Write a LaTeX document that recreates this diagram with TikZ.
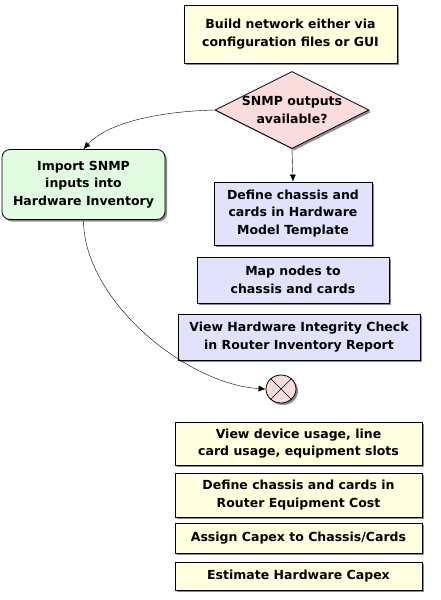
\documentclass[tikz,border=0pt]{standalone}
\usepackage{fontspec}
\setmainfont{DejaVu Sans}
\usetikzlibrary{shapes.geometric,shadows,arrows.meta}
\definecolor{taskyellow}{HTML}{FFFFE0}
\definecolor{taskblue}{HTML}{E2E2FC}
\definecolor{taskgreen}{HTML}{E2FCE2}
\definecolor{taskpink}{HTML}{FADCDC}
\tikzset{
  task/.style={draw, line width=0.8pt, inner sep=0pt, align=center,
    font=\bfseries\fontsize{12.5}{17.5}\selectfont,
    drop shadow={shadow xshift=2pt, shadow yshift=-2pt, fill=black!45, opacity=1}},
  flow/.style={thin, -{Latex[length=7pt,width=6pt]}}
}
\begin{document}
\begin{tikzpicture}[x=1pt,y=-1pt]
\useasboundingbox[fill=white] (0,0) rectangle (440,600);

% top part
\node[task, fill=taskyellow, minimum width=213, minimum height=58] (build) at (290.5,34)
  {Build network either via\\configuration files or GUI};
\node[task, shape=diamond, aspect=2, fill=taskpink, minimum width=150, minimum height=77] (snmp) at (292,110)
  {SNMP outputs\\available?};
\node[task, rounded corners=8pt, fill=taskgreen, minimum width=163, minimum height=70] (import) at (83.5,184.5)
  {Import SNMP\\inputs into\\Hardware Inventory};

% blue steps
\node[task, fill=taskblue, minimum width=158, minimum height=63] (define) at (293,213.5)
  {Define chassis and\\cards in Hardware\\Model Template};
\node[task, fill=taskblue, minimum width=192, minimum height=46] (map) at (293,280)
  {Map nodes to\\chassis and cards};
\node[task, fill=taskblue, minimum width=242, minimum height=46] (check) at (299,337)
  {View Hardware Integrity Check\\in Router Inventory Report};

% merge point
\node[task, shape=ellipse, fill=taskpink, minimum width=30, minimum height=28] (merge) at (281,389) {};
\draw[thin] (merge.45) -- (merge.225) (merge.135) -- (merge.315);

% yellow steps
\node[task, fill=taskyellow, minimum width=247, minimum height=43] (usage) at (298.5,443.5)
  {View device usage, line\\card usage, equipment slots};
\node[task, fill=taskyellow, minimum width=247, minimum height=44] (cost) at (298.5,495)
  {Define chassis and cards in\\Router Equipment Cost};
\node[task, fill=taskyellow, minimum width=247, minimum height=30] (capex) at (298.5,538)
  {Assign Capex to Chassis/Cards};
\node[task, fill=taskyellow, minimum width=247, minimum height=28] (estimate) at (298.5,576)
  {Estimate Hardware Capex};

% connectors
\draw[flow] (snmp.south) -- (define.north);
\draw[flow] (snmp.west) .. controls +(-70,2) and +(20,-22) .. (import.north);
\draw[flow] (import.south) .. controls +(0,80) and +(-80,-5) .. (merge.west);
\end{tikzpicture}
\end{document}
